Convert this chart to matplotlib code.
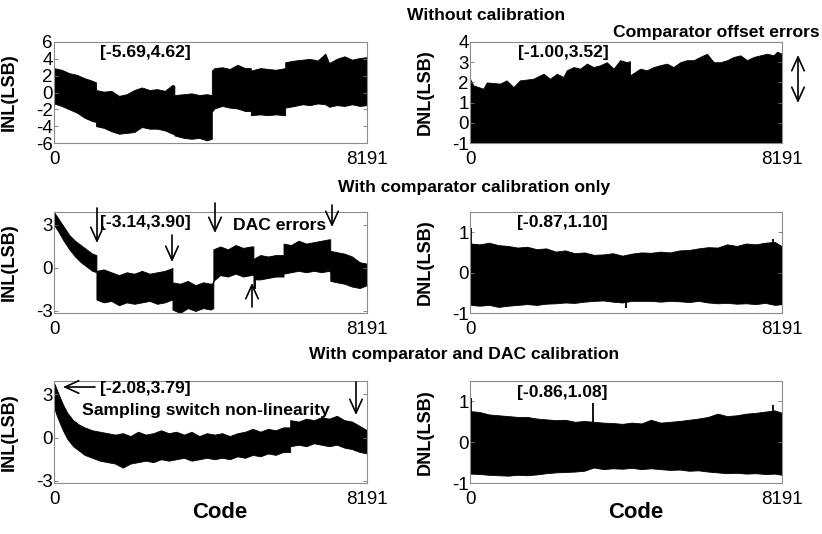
import matplotlib
matplotlib.use("Agg")
import matplotlib.pyplot as plt
from matplotlib import font_manager
from matplotlib.patches import FancyArrowPatch

# ---- data: envelopes (code, low, high) ----
# repeated codes mark the steps where the curve jumps

# Without calibration, INL
inl1_codes = [0, 200, 400, 600, 800, 1000, 1100, 1100, 1300, 1500, 1700, 1900, 2100, 2300, 2500,
              2700, 2900, 3100, 3150, 3150, 3400, 3600, 3800, 4000, 4130, 4130, 4200, 4400, 4600,
              4800, 5000, 5150, 5150, 5400, 5600, 5800, 6050, 6050, 6300, 6500, 6700, 6900, 7100,
              7200, 7400, 7600, 7800, 8000, 8191]
inl1_hi = [2.9, 2.7, 2.3, 2.1, 1.7, 1.4, 1.2, 0.3, 0.1, 0.2, -0.4, -0.2, 0.3, 0.6, 0.3,
           0.4, 0.2, 0.9, 0.8, -0.3, -0.2, -0.1, -0.3, -0.2, -0.3, 2.6, 2.9, 3.0, 2.8,
           3.3, 2.9, 2.9, 2.6, 2.9, 2.8, 2.7, 2.9, 3.6, 3.8, 3.9, 4.0, 3.8, 4.62,
           3.5, 4.0, 4.3, 3.9, 4.1, 4.2]
inl1_lo = [-1.3, -1.6, -2.0, -2.4, -3.0, -3.4, -3.5, -4.0, -4.2, -4.6, -4.9, -4.8, -4.7, -4.1, -4.3,
           -4.3, -4.5, -4.9, -4.9, -5.1, -5.4, -5.5, -5.4, -5.69, -5.5, -2.3, -1.9, -1.6, -1.8,
           -1.9, -2.2, -2.2, -2.7, -2.6, -2.7, -2.6, -2.7, -1.8, -1.6, -1.4, -1.5, -1.3, -1.4,
           -1.7, -1.5, -1.6, -1.4, -1.6, -1.5]

# Without calibration, DNL (lower edge sits at -1)
dnl1_codes = [0, 90, 350, 440, 790, 960, 1140, 1310, 1660, 1930, 2100, 2280, 2450, 2540, 2720,
              2890, 3070, 3240, 3420, 3590, 3770, 3940, 4120, 4200, 4200, 4470, 4640, 4820, 4990,
              5170, 5340, 5520, 5690, 5870, 6040, 6220, 6400, 6570, 6750, 6920, 7100, 7270, 7450,
              7620, 7800, 7970, 8060, 8191]
dnl1_hi = [2.18, 1.85, 1.69, 2.0, 1.94, 2.1, 1.77, 2.1, 2.18, 2.43, 2.18, 2.43, 2.27, 2.6, 2.76,
           2.68, 2.93, 2.76, 2.85, 3.0, 2.68, 3.1, 3.0, 3.05, 2.35, 2.68, 2.6, 2.76, 2.85,
           2.93, 2.76, 3.0, 3.1, 3.1, 3.26, 3.42, 3.0, 3.0, 3.1, 3.26, 3.34, 3.1, 3.26,
           3.34, 3.42, 3.34, 3.52, 3.42]
dnl1_min = -1.00

# With comparator calibration only, INL
inl2_codes = [0, 100, 250, 400, 550, 700, 850, 1000, 1110, 1110, 1300, 1500, 1700, 1900, 2100,
              2300, 2500, 2700, 2900, 3100, 3100, 3300, 3500, 3700, 3900, 4100, 4170, 4170, 4350,
              4550, 4750, 4950, 5150, 5219, 5219, 5260, 5260, 5400, 5600, 5800, 6006, 6006, 6200,
              6400, 6600, 6800, 7000, 7200, 7230, 7230, 7400, 7600, 7800, 8000, 8191]
inl2_hi = [3.9, 3.5, 2.9, 2.3, 1.9, 1.6, 1.3, 1.0, 0.9, -0.2, -0.1, -0.3, -0.5, -0.3, -0.4,
           -0.2, -0.4, -0.3, -0.2, 0.0, -1.0, -1.1, -0.9, -1.2, -1.0, -1.1, -1.0, 1.3, 1.5,
           1.3, 1.6, 1.4, 1.5, 1.5, 0.6, 0.7, 0.7, 0.9, 0.8, 0.9, 0.9, 1.7, 1.6,
           1.9, 1.7, 1.8, 1.9, 2.0, 2.0, 1.2, 1.1, 1.0, 0.8, 0.4, 0.3]
inl2_lo = [3.0, 2.6, 1.9, 1.3, 0.8, 0.4, 0.1, -0.2, -0.3, -2.2, -2.4, -2.3, -2.6, -2.4, -2.5,
           -2.4, -2.3, -2.5, -2.4, -2.2, -2.9, -3.14, -2.8, -3.0, -2.8, -2.9, -2.8, -0.9, -0.5,
           -0.6, -0.4, -0.6, -0.5, -0.5, -1.4, -1.4, -0.8, -0.8, -0.7, -0.6, -0.6, -0.4, -0.3,
           -0.2, -0.3, -0.2, -0.3, -0.2, -0.3, -0.9, -1.0, -1.1, -1.3, -1.4, -1.2]

# DNL panels with calibration share one code grid
dnl_codes = [0, 30, 250, 500, 750, 1000, 1250, 1500, 1750, 2000, 2250, 2500, 2750, 3000, 3250,
             3500, 3750, 4000, 4250, 4500, 4750, 5000, 5250, 5500, 5750, 6000, 6250, 6500, 6750,
             7000, 7250, 7500, 7750, 8000, 8191]

# With comparator calibration only, DNL
dnl2_hi = [0.74, 0.72, 0.70, 0.74, 0.68, 0.66, 0.62, 0.64, 0.58, 0.60, 0.52, 0.55, 0.48, 0.50, 0.44,
           0.45, 0.48, 0.42, 0.47, 0.50, 0.49, 0.52, 0.50, 0.55, 0.56, 0.60, 0.63, 0.62, 0.70,
           0.66, 0.72, 0.70, 0.74, 0.76, 0.65]
dnl2_lo = [-0.75, -0.80, -0.82, -0.80, -0.85, -0.82, -0.80, -0.78, -0.80, -0.77, -0.76, -0.74, -0.75, -0.72, -0.70,
           -0.69, -0.72, -0.74, -0.70, -0.70, -0.70, -0.72, -0.70, -0.71, -0.73, -0.70, -0.74, -0.76, -0.75,
           -0.77, -0.76, -0.78, -0.75, -0.80, -0.78]
dnl2_spike_codes = [15, 4100, 7950]
dnl2_spike_vals = [1.10, -0.87, 0.84]

# With comparator and DAC calibration, INL
inl3_codes = [0, 60, 150, 250, 350, 500, 650, 800, 1000, 1200, 1400, 1600, 1800, 2000, 2200,
              2400, 2600, 2800, 3000, 3200, 3400, 3600, 3800, 4000, 4200, 4400, 4600, 4800, 5000,
              5200, 5400, 5600, 5800, 6000, 6180, 6180, 6400, 6600, 6800, 7000, 7200, 7400, 7600,
              7800, 8000, 8191]
inl3_hi = [3.79, 3.4, 2.8, 2.2, 1.7, 1.2, 0.9, 0.7, 0.5, 0.4, 0.3, 0.2, 0.3, 0.1, 0.4,
           0.2, 0.3, 0.5, 0.3, 0.4, 0.2, 0.4, 0.1, 0.3, 0.2, 0.3, 0.1, 0.3, 0.4,
           0.6, 0.4, 0.6, 0.5, 0.7, 0.7, 1.2, 1.1, 1.3, 1.2, 1.4, 1.3, 1.5, 1.2,
           1.1, 0.8, 0.5]
inl3_lo = [2.1, 1.6, 1.0, 0.4, -0.1, -0.6, -0.9, -1.2, -1.4, -1.6, -1.7, -1.8, -2.08, -1.8, -1.7,
           -1.6, -1.7, -1.5, -1.6, -1.5, -1.4, -1.6, -1.5, -1.4, -1.5, -1.4, -1.5, -1.3, -1.4,
           -1.2, -1.3, -1.1, -1.2, -1.0, -1.0, -0.6, -0.5, -0.6, -0.4, -0.5, -0.6, -0.5, -0.7,
           -0.8, -1.0, -1.1]

# With comparator and DAC calibration, DNL
dnl3_hi = [0.78, 0.76, 0.74, 0.68, 0.66, 0.64, 0.62, 0.62, 0.58, 0.56, 0.54, 0.55, 0.50, 0.52, 0.50,
           0.48, 0.47, 0.45, 0.48, 0.46, 0.55, 0.48, 0.50, 0.52, 0.55, 0.58, 0.62, 0.70, 0.64,
           0.66, 0.70, 0.72, 0.75, 0.78, 0.72]
dnl3_lo = [-0.77, -0.77, -0.78, -0.80, -0.81, -0.82, -0.80, -0.81, -0.79, -0.76, -0.74, -0.73, -0.72, -0.70, -0.62,
           -0.66, -0.64, -0.65, -0.63, -0.66, -0.64, -0.66, -0.68, -0.67, -0.70, -0.69, -0.72, -0.74, -0.76,
           -0.75, -0.77, -0.76, -0.78, -0.77, -0.80]
dnl3_spike_codes = [15, 3240, 7950]
dnl3_spike_vals = [1.08, 0.97, 0.90]

N_CODES = 8191

# ---- fonts ----
names = {f.name for f in font_manager.fontManager.ttflist}
if "Liberation Sans Narrow" in names:
    FONT, K = "Liberation Sans Narrow", 1.0
else:
    FONT, K = "Liberation Sans", 0.84
plt.rcParams["font.family"] = FONT

W, H = 822, 534
fig = plt.figure(figsize=(W / 100, H / 100), dpi=100)


def rect(x0, y0, x1, y1):
    return [x0 / W, 1 - y1 / H, (x1 - x0) / W, (y1 - y0) / H]


def fxy(x, y):
    return (x / W, 1 - y / H)


def make_ax(r, ylim, yticks, ylabel):
    ax = fig.add_axes(r)
    ax.set_xlim(0, N_CODES)
    ax.set_ylim(*ylim)
    ax.set_xticks([0, N_CODES])
    ax.set_xticklabels(["0", "8191"])
    ax.set_yticks(yticks)
    ax.set_yticklabels([str(t) for t in yticks])
    ax.tick_params(direction="in", length=3, width=0.6, color="0.45",
                   top=True, right=True, labelsize=max(15 * K, 13.5))
    ax.tick_params(axis="y", pad=1)
    ax.tick_params(axis="x", pad=6)
    for s in ax.spines.values():
        s.set_color("0.55")
        s.set_linewidth(0.8)
    ax.set_ylabel(ylabel, fontsize=15.5 * K, fontweight="bold")
    ax.yaxis.set_label_coords(-0.115, 0.5)
    return ax


LEFT = (54, 367)
RIGHT = (470, 782)
ROWS = [(42, 143), (212, 313), (381, 483)]

ax1 = make_ax(rect(LEFT[0], ROWS[0][0], LEFT[1], ROWS[0][1]), (-6, 6), [6, 4, 2, 0, -2, -4, -6], "INL(LSB)")
ax1.fill_between(inl1_codes, inl1_lo, inl1_hi, color="black", lw=0.6, edgecolor="black")

ax2 = make_ax(rect(RIGHT[0], ROWS[0][0], RIGHT[1], ROWS[0][1]), (-1, 4), [4, 3, 2, 1, 0, -1], "DNL(LSB)")
ax2.fill_between(dnl1_codes, dnl1_min, dnl1_hi, color="black", lw=0.6, edgecolor="black")

ax3 = make_ax(rect(LEFT[0], ROWS[1][0], LEFT[1], ROWS[1][1]), (-3.14, 3.90), [3, 0, -3], "INL(LSB)")
ax3.fill_between(inl2_codes, inl2_lo, inl2_hi, color="black", lw=0.6, edgecolor="black")

ax4 = make_ax(rect(RIGHT[0], ROWS[1][0], RIGHT[1], ROWS[1][1]), (-1, 1.5), [1, 0, -1], "DNL(LSB)")
ax4.fill_between(dnl_codes, dnl2_lo, dnl2_hi, color="black", lw=0.6, edgecolor="black")
ax4.vlines(dnl2_spike_codes, 0, dnl2_spike_vals, color="black", lw=1.3)

ax5 = make_ax(rect(LEFT[0], ROWS[2][0], LEFT[1], ROWS[2][1]), (-3.14, 3.90), [3, 0, -3], "INL(LSB)")
ax5.fill_between(inl3_codes, inl3_lo, inl3_hi, color="black", lw=0.6, edgecolor="black")

ax6 = make_ax(rect(RIGHT[0], ROWS[2][0], RIGHT[1], ROWS[2][1]), (-1, 1.5), [1, 0, -1], "DNL(LSB)")
ax6.fill_between(dnl_codes, dnl3_lo, dnl3_hi, color="black", lw=0.6, edgecolor="black")
ax6.vlines(dnl3_spike_codes, 0, dnl3_spike_vals, color="black", lw=1.3)

for ax in (ax5, ax6):
    ax.text(0.53, -0.29, "Code", transform=ax.transAxes, ha="center", va="center",
            fontsize=19 * K, fontweight="bold")

# ---- titles and notes ----
bold = dict(fontweight="bold", fontsize=15 * K, va="center")
fig.text(*fxy(486, 15), "Without calibration", ha="center", **bold)
fig.text(*fxy(474, 187), "With comparator calibration only", ha="center", **bold)
fig.text(*fxy(464, 355), "With comparator and DAC calibration", ha="center", **bold)
fig.text(*fxy(716, 32), "Comparator offset errors", ha="center", **bold)

fig.text(*fxy(100, 53), "[-5.69,4.62]", ha="left", **bold)
fig.text(*fxy(518, 53), "[-1.00,3.52]", ha="left", **bold)
fig.text(*fxy(100, 223), "[-3.14,3.90]", ha="left", **bold)
fig.text(*fxy(233, 225), "DAC errors", ha="left", **bold)
fig.text(*fxy(517, 223), "[-0.87,1.10]", ha="left", **bold)
fig.text(*fxy(100, 388), "[-2.08,3.79]", ha="left", **bold)
fig.text(*fxy(82, 410), "Sampling switch non-linearity", ha="left", **bold)
fig.text(*fxy(517, 393), "[-0.86,1.08]", ha="left", **bold)

# arrows: (tail, head, style) in picture pixels
arrows = [
    ((798, 55), (798, 103), "<->"),
    ((97, 208), (97, 243), "->"),
    ((172, 235), (172, 262), "->"),
    ((215, 203), (215, 233), "->"),
    ((332, 205), (332, 227), "->"),
    ((252, 307), (252, 283), "->"),
    ((95, 387), (63, 387), "->"),
    ((356, 382), (356, 415), "->"),
]
for tail, head, style in arrows:
    arr = FancyArrowPatch(fxy(*tail), fxy(*head), transform=fig.transFigure,
                          arrowstyle=style + ",head_length=0.55,head_width=0.25",
                          mutation_scale=18, lw=1.2, color="black",
                          shrinkA=0, shrinkB=0, zorder=5)
    fig.add_artist(arr)

fig.savefig("out.png", dpi=100)
